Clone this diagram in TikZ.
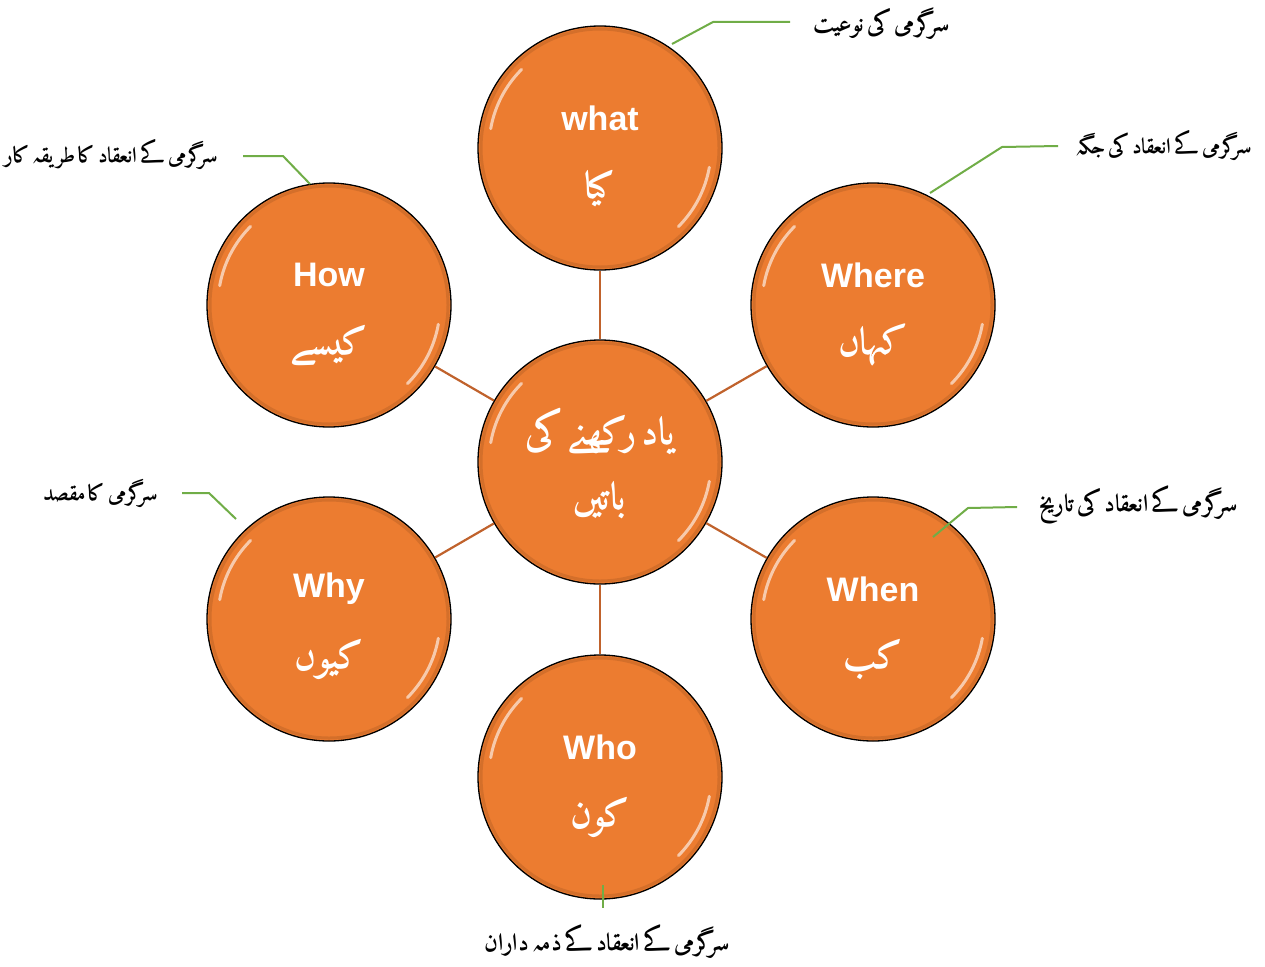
\documentclass[tikz,border=0pt]{standalone}
\usepackage{fontspec}
\setmainfont{Liberation Sans}
\IfFontExistsTF{Amiri-Bold.ttf}
  {\newfontfamily\urdu[Script=Arabic,WordSpace=0.45]{Amiri-Bold.ttf}}
  {\newfontfamily\urdu[Script=Arabic]{DejaVu Sans}}
\TeXXeTstate=1
\definecolor{org}{HTML}{EC7C30}
\definecolor{brn}{HTML}{C0622C}
\definecolor{grn}{HTML}{70AD47}
\tikzset{
  bubble/.style={circle, minimum size=244pt, inner sep=0pt, fill=org, draw=black, line width=1.3pt},
  link/.style={draw=brn, line width=2.2pt},
  lead/.style={draw=grn, line width=2pt},
  ulabel/.style={font=\urdu\fontsize{24}{28}\selectfont, text=black, inner sep=0pt},
  usmall/.style={font=\urdu\fontsize{21.5}{26}\selectfont},
  eng/.style={font=\bfseries\fontsize{34}{40}\selectfont, text=white, inner sep=0pt},
  urw/.style={font=\urdu\fontsize{38}{44}\selectfont, text=white, inner sep=0pt},
  rim/.style={draw=org!80!black, line width=3pt, opacity=0.5},
  shine/.style={draw=white, line width=3pt, opacity=0.6, line cap=round},
}
\newcommand{\glossat}[2]{%
  \draw[rim] (#1,#2) circle[radius=119pt];
  \draw[shine] ([shift={(#1,#2)}] 135:111pt) arc[start angle=135, end angle=170, radius=111pt];
  \draw[shine] ([shift={(#1,#2)}] -10:111pt) arc[start angle=-10, end angle=-45, radius=111pt];
}
\begin{document}
\begin{tikzpicture}[x=1pt,y=-1pt]
\useasboundingbox (0,0) rectangle (1265,966);
% bubbles
\node[bubble] (c) at (600,462) {};
\node[bubble] (what) at (600,148) {};
\node[bubble] (how) at (329,305) {};
\node[bubble] (where) at (873,305) {};
\node[bubble] (why) at (329,619) {};
\node[bubble] (when) at (873,619) {};
\node[bubble] (who) at (600,777) {};
\glossat{600}{462}
\glossat{600}{148}
\glossat{329}{305}
\glossat{873}{305}
\glossat{329}{619}
\glossat{873}{619}
\glossat{600}{777}
% connectors
\draw[link] (c) -- (what);
\draw[link] (c) -- (how);
\draw[link] (c) -- (where);
\draw[link] (c) -- (why);
\draw[link] (c) -- (when);
\draw[link] (c) -- (who);
% texts in bubbles
\node[urw] (c1) at (600,432) {\beginR یاد رکھنے کی\endR};
\node[urw] (c2) at (600,500) {\beginR باتیں\endR};
\node[eng] (what1) at (600,118) {what};
\node[urw] (what2) at (600,188) {\beginR کیا\endR};
\node[eng] (how1) at (329,275) {How};
\node[urw] (how2) at (329,345) {\beginR کیسے\endR};
\node[eng] (where1) at (873,275) {Where};
\node[urw] (where2) at (873,345) {\beginR کہاں\endR};
\node[eng] (why1) at (329,589) {Why};
\node[urw] (why2) at (329,659) {\beginR کیوں\endR};
\node[eng] (when1) at (873,589) {When};
\node[urw] (when2) at (873,659) {\beginR کب\endR};
\node[eng] (who1) at (600,747) {Who};
\node[urw] (who2) at (600,817) {\beginR کون\endR};
% outer labels
\node[ulabel, anchor=east] (lwhat) at (950,24) {\beginR سرگرمی کی نوعیت\endR};
\node[ulabel, usmall, anchor=east] (lhow) at (218,155) {\beginR سرگرمی کے انعقاد کا طریقہ کار\endR};
\node[ulabel, usmall, anchor=east] (lwhere) at (1252,146) {\beginR سرگرمی کے انعقاد کی جگہ\endR};
\node[ulabel, usmall, anchor=east] (lwhy) at (158,493) {\beginR سرگرمی کا مقصد\endR};
\node[ulabel, anchor=east] (lwhen) at (1238,505) {\beginR سرگرمی کے انعقاد کی تاریخ\endR};
\node[ulabel] (lwho) at (607,942) {\beginR سرگرمی کے انعقاد کے ذمہ داران\endR};
% leader lines
\coordinate (s1) at (672,44);
\coordinate (s2) at (310,184);
\coordinate (s3) at (930,193);
\coordinate (s4) at (236,519);
\coordinate (s5) at (933,537);
\coordinate (s6) at (603,885);
\coordinate (e1) at (790,22);
\coordinate (e2) at (243,156);
\coordinate (e3) at (1058,146);
\coordinate (e4) at (182,493);
\coordinate (e5) at (1017,507);
\coordinate (e6) at (603,908);
\draw[lead] (s1) -- (713,22) -- (e1);
\draw[lead] (s2) -- (283,156) -- (e2);
\draw[lead] (s3) -- (1002,147) -- (e3);
\draw[lead] (s4) -- (209,493) -- (e4);
\draw[lead] (s5) -- (968,508) -- (e5);
\draw[lead] (s6) -- (e6);
\end{tikzpicture}
\end{document}
